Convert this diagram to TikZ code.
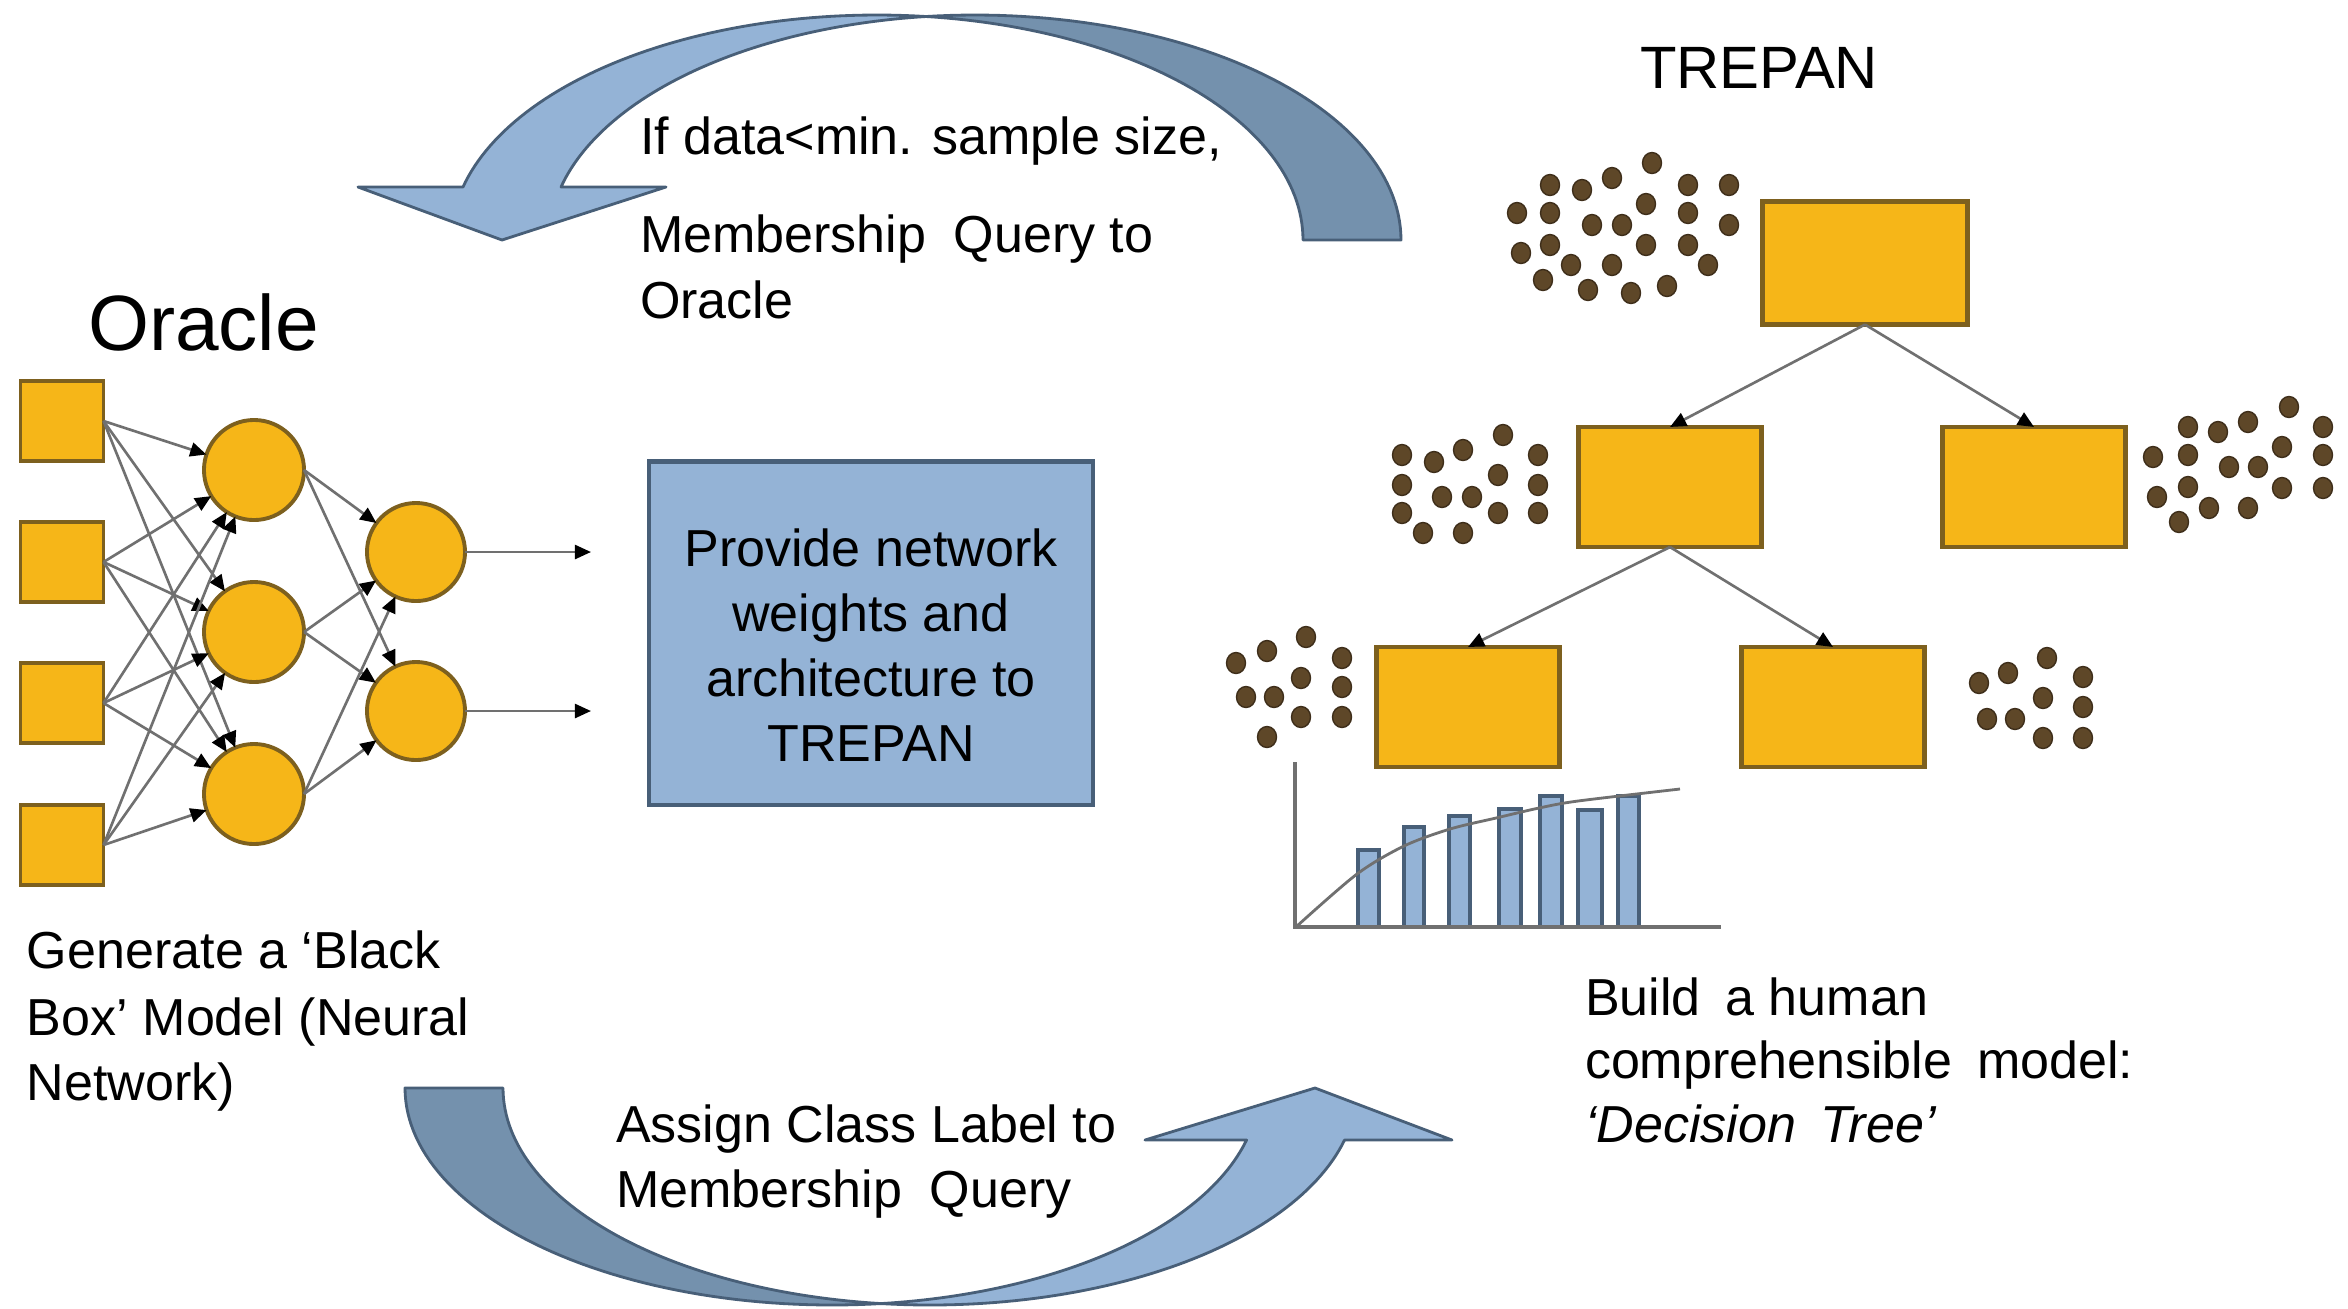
\documentclass[tikz,border=0pt]{standalone}
\usepackage{fontspec}
\setmainfont{Liberation Sans}
\usetikzlibrary{arrows.meta}

\definecolor{nodeorange}{RGB}{246,182,24}
\definecolor{nodeedge}{RGB}{125,96,30}
\definecolor{dotfill}{RGB}{94,71,40}
\definecolor{dotedge}{RGB}{62,46,26}
\definecolor{steel}{RGB}{148,179,214}
\definecolor{steeldark}{RGB}{116,145,173}
\definecolor{steeledge}{RGB}{72,95,120}
\definecolor{wire}{RGB}{112,112,112}

\begin{document}
\begin{tikzpicture}[x=0.01cm, y=-0.01cm,
  every node/.style={inner sep=0pt, outer sep=0pt},
  body/.style={font=\fontsize{14.8}{18.5}\selectfont},
  textline/.style={body, anchor=base west},
  inbox/.style={draw=nodeedge, fill=nodeorange, line width=1.1pt,
    minimum width=0.83cm, minimum height=0.80cm},
  neuron/.style={circle, draw=nodeedge, fill=nodeorange, line width=1.1pt,
    minimum size=1cm},
  leaf/.style={draw=nodeedge, fill=nodeorange, line width=1.2pt,
    minimum width=1.83cm, minimum height=1.20cm},
  panel/.style={draw=steeledge, fill=steel, line width=1.2pt,
    minimum width=4.44cm, minimum height=3.43cm},
  wireedge/.style={draw=wire, line width=0.75pt,
    -{Triangle[length=4.6pt,width=4pt,color=black]}},
  speck/.style={fill=dotfill, draw=dotedge, line width=0.4pt},
  bandlight/.style={fill=steel, draw=steeledge, line width=0.8pt, line join=round},
  banddark/.style={fill=steeldark, draw=steeledge, line width=0.8pt, line join=round},
  bar/.style={fill=steel, draw=steeledge, line width=0.9pt},
  axisline/.style={draw=wire, line width=1.1pt},
  trend/.style={draw=wire, line width=0.8pt},
]
\fill[white] (0,0) rectangle (2348,1308);
\useasboundingbox (0,0) rectangle (2348,1308);

% ---- upper return arrow: two equal half-ellipses shifted sideways ----
\path[banddark]
  ({975+426*cos(-96.6)},{240+225*sin(-96.6)})
  -- plot[domain=-96.6:0, samples=60] ({975+426*cos(\x)},{240+225*sin(\x)})
  -- plot[domain=0:-83.4, samples=60] ({877+426*cos(\x)},{240+225*sin(\x)})
  -- cycle;
\path[bandlight]
  ({877+426*cos(-83.4)},{240+225*sin(-83.4)})
  -- plot[domain=-83.4:-166.37, samples=60] ({877+426*cos(\x)},{240+225*sin(\x)})
  -- (358,187) -- (502,240) -- (666,187)
  -- plot[domain=-166.37:-96.6, samples=60] ({975+426*cos(\x)},{240+225*sin(\x)})
  -- cycle;

% ---- lower forward arrow ----
\path[banddark]
  (405,1088)
  -- plot[domain=180:83.41, samples=60] ({832+427*cos(\x)},{1088+217*sin(\x)})
  -- plot[domain=96.59:180, samples=60] ({930+427*cos(\x)},{1088+217*sin(\x)})
  -- cycle;
\path[bandlight]
  ({930+427*cos(96.59)},{1088+217*sin(96.59)})
  -- plot[domain=96.59:13.866, samples=60] ({930+427*cos(\x)},{1088+217*sin(\x)})
  -- (1452,1140) -- (1315,1088) -- (1145,1140)
  -- plot[domain=13.866:83.41, samples=60] ({832+427*cos(\x)},{1088+217*sin(\x)})
  -- cycle;

% ---- neural network ----
\node[inbox] (s1) at (62,421) {};
\node[inbox] (s2) at (62,562) {};
\node[inbox] (s3) at (62,703) {};
\node[inbox] (s4) at (62,845) {};
\node[neuron] (h1) at (254,470) {};
\node[neuron] (h2) at (254,632) {};
\node[neuron] (h3) at (254,794) {};
\node[neuron, minimum size=0.98cm] (o1) at (416,552) {};
\node[neuron, minimum size=0.98cm] (o2) at (416,711) {};
\coordinate (y1) at (591,552);
\coordinate (y2) at (591,711);

\foreach \i in {1,...,4}
  \foreach \j in {1,2,3}
    \draw[wireedge] (s\i.east) -- (h\j);
\foreach \j in {1,2,3}
  \foreach \k in {1,2}
    \draw[wireedge] (h\j.east) -- (o\k);
\draw[wireedge] (o1) -- (y1);
\draw[wireedge] (o2) -- (y2);

% ---- hand-over box ----
\node[panel] (box) at (871,633) {};
\node[body, align=center] (boxtext) at (871,645)
  {Provide network\\weights and\\architecture to\\TREPAN};

% ---- decision tree ----
\node[leaf, minimum width=2.05cm, minimum height=1.23cm] (t0) at (1865,263) {};
\node[leaf] (t1) at (1670,487) {};
\node[leaf] (t2) at (2034,487) {};
\node[leaf] (t3) at (1468,707) {};
\node[leaf] (t4) at (1833,707) {};
\draw[wireedge] (t0.south) -- (t1.north);
\draw[wireedge] (t0.south) -- (t2.north);
\draw[wireedge] (t1.south) -- (t3.north);
\draw[wireedge] (t1.south) -- (t4.north);

% sample clouds beside the tree nodes
\foreach \p in {(1652,163),(1550,185),(1582,190),(1612,178),(1688,185),(1729,185),
                (1517,213),(1550,213),(1646,204),(1688,213),(1592,225),(1622,225),
                (1729,225),(1521,253),(1550,245),(1646,245),(1688,245),(1571,265),
                (1612,265),(1708,265),(1543,280),(1588,290),(1631,293),(1667,286)}
  \path[speck] \p circle[x radius=0.095cm, y radius=0.105cm];
\foreach \p in {(1503,435),(1402,455),(1434,462),(1463,450),(1538,455),(1402,485),
                (1498,475),(1538,485),(1442,497),(1472,497),(1402,513),(1498,513),
                (1538,513),(1423,533),(1463,533)}
  \path[speck] \p circle[x radius=0.095cm, y radius=0.105cm];
\foreach \p in {(2289,407),(2188,427),(2218,432),(2248,422),(2323,427),(2153,457),
                (2188,455),(2282,447),(2323,455),(2229,467),(2258,467),(2157,497),
                (2188,487),(2282,488),(2323,488),(2209,508),(2248,508),(2179,522)}
  \path[speck] \p circle[x radius=0.095cm, y radius=0.105cm];
\foreach \p in {(1306,637),(1267,651),(1236,663),(1342,658),(1301,678),(1342,687),
                (1246,697),(1274,697),(1301,717),(1342,717),(1267,737)}
  \path[speck] \p circle[x radius=0.095cm, y radius=0.105cm];
\foreach \p in {(2047,658),(2008,673),(1979,683),(2083,677),(2043,698),(2083,707),
                (1987,719),(2015,719),(2043,738),(2083,738)}
  \path[speck] \p circle[x radius=0.095cm, y radius=0.105cm];

% ---- small histogram under the tree ----
\foreach \l/\r/\t in {1358/1379/850, 1404/1424/827, 1449/1470/816, 1499/1521/809,
                      1540/1562/796, 1578/1602/810, 1618/1639/796}
  \path[bar] (\l,927) rectangle (\r,\t);
\draw[axisline] (1295,762) -- (1295,927) -- (1721,927);
\draw[trend] plot[smooth] coordinates {(1297,926) (1357,874) (1404,846) (1450,829)
  (1496,818) (1539,808) (1578,801) (1680,789)};

% ---- labels ----
\node[anchor=base west, font=\fontsize{22.3}{27}\selectfont] (oracle) at (88,350) {Oracle};
\node[anchor=base west, font=\fontsize{17}{21}\selectfont] (trepan) at (1640,88) {TREPAN};

\node[textline] (q1) at (640,154) {If data<min. sample size,};
\node[textline] (q2) at (640,252) {Membership\hspace{0.25em} Query to};
\node[textline] (q3) at (640,318) {Oracle};

\node[textline] (g1) at (27,968) {Generate a ‘Black};
\node[textline] (g2) at (27,1035) {Box’ Model (Neural};
\node[textline] (g3) at (27,1100) {Network)};

\node[textline] (a1) at (616,1142) {Assign Class Label to};
\node[textline] (a2) at (616,1207) {Membership\hspace{0.25em} Query};

\node[textline] (b1) at (1585,1015) {Build\hspace{0.2em} a human};
\node[textline] (b2) at (1585,1078) {comprehensible\hspace{0.2em} model:};
\node[textline] (b3) at (1585,1142) {\itshape ‘Decision\hspace{0.2em} Tree’};
\end{tikzpicture}
\end{document}
